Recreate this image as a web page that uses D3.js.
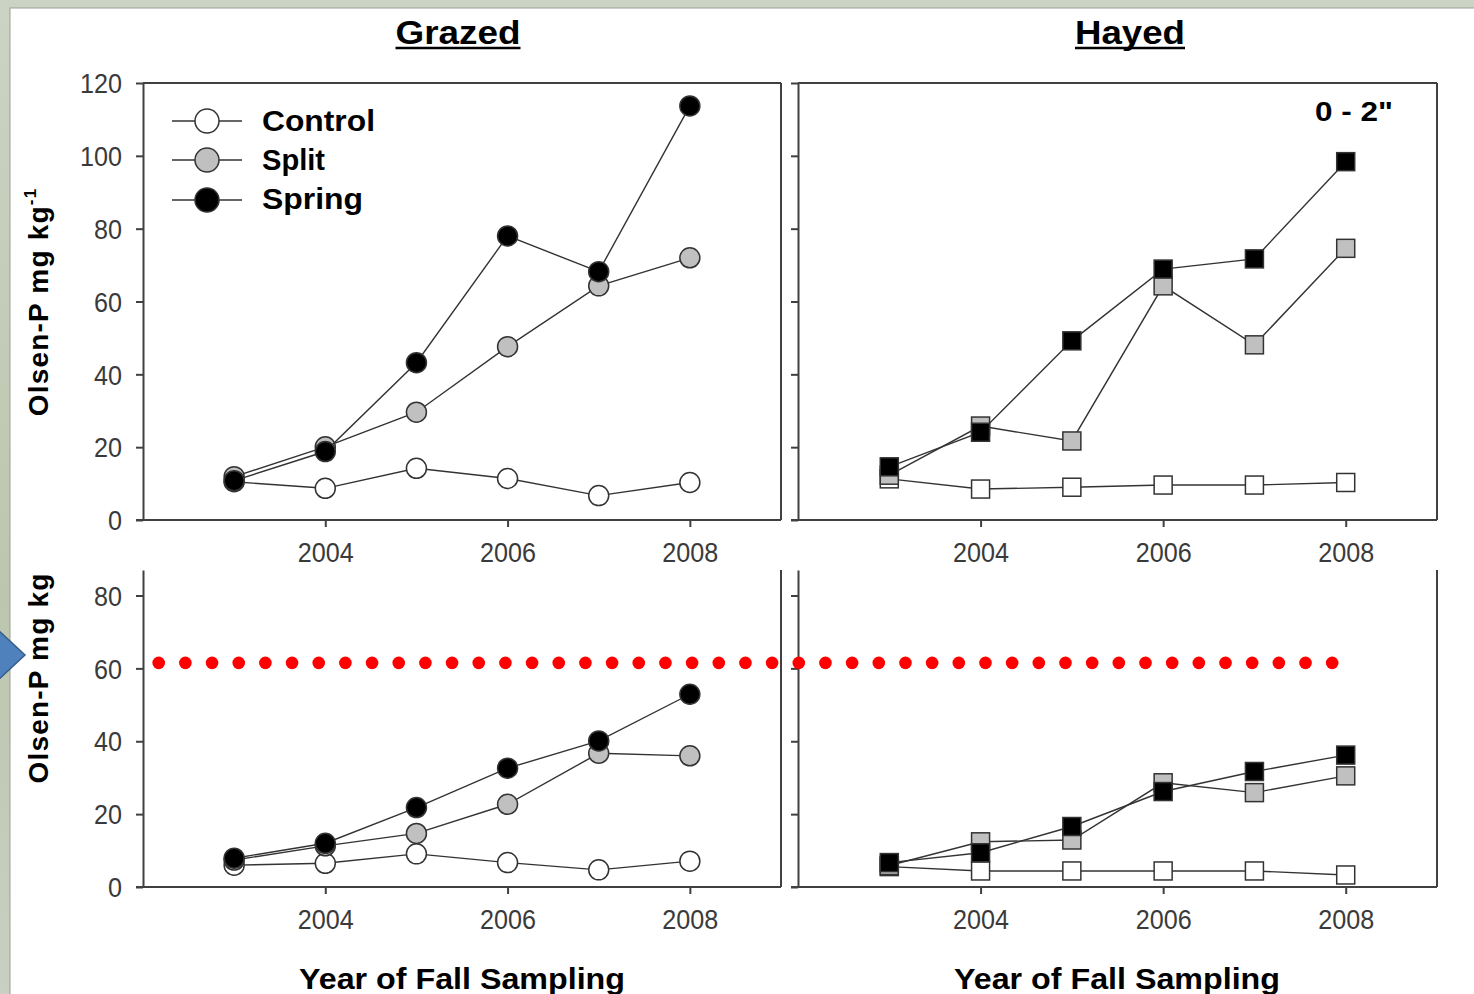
<!DOCTYPE html>
<html>
  <head>
    <meta charset="utf-8">
    <title>Olsen-P by year of fall sampling</title>
    <script src="https://cdn.jsdelivr.net/npm/d3@7"></script>
    <style>
      body { margin: 0; background: #c6cebd; }
      svg { display: block; }
      .tick text { font-family: "Liberation Sans", Arial, sans-serif; fill: #3a3a3a; }
      .bold { font-family: "Liberation Sans", Arial, sans-serif; font-weight: bold; fill: #000; }
    </style>
  </head>
  <body>
    <svg id="chart" width="1474" height="994"></svg>
    <script>
      // values
      const years = [2003, 2004, 2005, 2006, 2007, 2008];
      const grazedTopControl = [10.5, 8.7, 14.2, 11.4, 6.7, 10.3];
      const grazedTopSplit = [11.9, 20.1, 29.6, 47.6, 64.3, 72.0];
      const grazedTopSpring = [10.8, 18.8, 43.2, 78.0, 68.2, 113.7];
      const hayedTopControl = [11.3, 8.5, 9.0, 9.6, 9.6, 10.3];
      const hayedTopSplit = [12.3, 25.8, 21.7, 64.3, 48.1, 74.6];
      const hayedTopSpring = [14.6, 24.1, 49.2, 68.9, 71.7, 98.4];
      const grazedBottomControl = [6.0, 6.5, 9.1, 6.7, 4.7, 7.1];
      const grazedBottomSplit = [7.4, 11.3, 14.7, 22.7, 36.7, 36.0];
      const grazedBottomSpring = [7.9, 12.0, 21.8, 32.6, 40.1, 52.9];
      const hayedBottomControl = [5.6, 4.4, 4.4, 4.4, 4.4, 3.3];
      const hayedBottomSplit = [5.9, 12.4, 12.9, 28.6, 25.9, 30.5];
      const hayedBottomSpring = [6.7, 9.4, 16.6, 26.2, 31.7, 36.2];

      const seriesNames = ["Control", "Split", "Spring"];
      const seriesFills = ["#ffffff", "#c0c0c0", "#000000"];
      const topYTicks = [0, 20, 40, 60, 80, 100, 120];
      const bottomYTicks = [0, 20, 40, 60, 80];
      const xTicks = [2004, 2006, 2008];
      const thresholdValue = 61.5;

      const svg = d3.select("#chart");
      const axisColor = "#404040";

      // slide background + white area
      const grad = svg.append("defs").append("linearGradient")
        .attr("id", "bg").attr("x1", 0).attr("y1", 0).attr("x2", 0).attr("y2", 1);
      grad.append("stop").attr("offset", "0%").attr("stop-color", "#cbd3c4");
      grad.append("stop").attr("offset", "60%").attr("stop-color", "#bcc6ae");
      grad.append("stop").attr("offset", "100%").attr("stop-color", "#c9cfc2");
      svg.append("rect").attr("width", 1474).attr("height", 994).attr("fill", "url(#bg)");
      svg.append("rect").attr("x", 10).attr("y", 8).attr("width", 1470).attr("height", 990)
        .attr("fill", "#fff").attr("stroke", "#9aa096").attr("stroke-width", 1);

      const panels = [
        { x0: 143, x1: 781, y0: 83, y1: 520, max: 120, ticks: topYTicks, labels: true, top: true,
          shape: "circle", data: [grazedTopControl, grazedTopSplit, grazedTopSpring] },
        { x0: 798, x1: 1437, y0: 83, y1: 520, max: 120, ticks: topYTicks, labels: false, top: true,
          shape: "square", data: [hayedTopControl, hayedTopSplit, hayedTopSpring] },
        { x0: 143, x1: 781, y0: 570, y1: 887, max: 87, ticks: bottomYTicks, labels: true, top: false,
          shape: "circle", data: [grazedBottomControl, grazedBottomSplit, grazedBottomSpring] },
        { x0: 798, x1: 1437, y0: 570, y1: 887, max: 87, ticks: bottomYTicks, labels: false, top: false,
          shape: "square", data: [hayedBottomControl, hayedBottomSplit, hayedBottomSpring] }
      ];

      let bottomY = null;

      panels.forEach(function (p) {
        const x = d3.scaleLinear().domain([2002, 2009]).range([p.x0, p.x1]);
        const y = d3.scaleLinear().domain([0, p.max]).range([p.y1, p.y0]);
        p.x = x; p.y = y;
        if (!p.top && !bottomY) bottomY = y;
        const g = svg.append("g");

        // frame lines
        if (p.top) {
          g.append("line").attr("x1", p.x0).attr("x2", p.x1).attr("y1", p.y0).attr("y2", p.y0)
            .attr("stroke", axisColor).attr("stroke-width", 2);
        }
        g.append("line").attr("x1", p.x1).attr("x2", p.x1).attr("y1", p.y0).attr("y2", p.y1)
          .attr("stroke", axisColor).attr("stroke-width", 2);

        const yAxis = g.append("g")
          .attr("transform", "translate(" + p.x0 + ",0)")
          .call(d3.axisLeft(y).tickValues(p.ticks).tickSize(7).tickSizeOuter(0)
            .tickFormat(p.labels ? d3.format("d") : ""));
        yAxis.selectAll("text")
          .attr("x", -21).attr("dy", "0.36em")
          .style("font-size", "27px")
          .attr("textLength", function (d) { return String(d).length * 14; })
          .attr("lengthAdjust", "spacingAndGlyphs");

        const xAxis = g.append("g")
          .attr("transform", "translate(0," + p.y1 + ")")
          .call(d3.axisBottom(x).tickValues(xTicks).tickSize(7).tickSizeOuter(0).tickFormat(d3.format("d")));
        xAxis.selectAll("text")
          .attr("y", 42).attr("dy", 0)
          .style("font-size", "27px")
          .attr("textLength", 56)
          .attr("lengthAdjust", "spacingAndGlyphs");

        [yAxis, xAxis].forEach(function (a) {
          a.select(".domain").attr("stroke", axisColor).attr("stroke-width", 2);
          a.selectAll(".tick line").attr("stroke", axisColor).attr("stroke-width", 2);
        });
        xAxis.select(".domain").attr("d", "M" + (p.x0 - 7) + ",0H" + p.x1);

        // series
        p.data.forEach(function (vals, si) {
          const pts = years.map(function (yr, i) { return [x(yr), y(vals[i])]; });
          g.append("path")
            .attr("d", d3.line()(pts))
            .attr("fill", "none").attr("stroke", "#333").attr("stroke-width", 1.4);
          if (p.shape === "circle") {
            g.selectAll(null).data(pts).enter().append("circle")
              .attr("cx", function (d) { return d[0]; })
              .attr("cy", function (d) { return d[1]; })
              .attr("r", 10)
              .attr("fill", seriesFills[si]).attr("stroke", "#333").attr("stroke-width", 1.5);
          } else {
            g.selectAll(null).data(pts).enter().append("rect")
              .attr("x", function (d) { return d[0] - 9; })
              .attr("y", function (d) { return d[1] - 9; })
              .attr("width", 18).attr("height", 18)
              .attr("fill", seriesFills[si]).attr("stroke", "#333").attr("stroke-width", 1.5);
          }
        });
      });

      // legend
      const legendRows = [121, 160, 200];
      const legendText = [131, 170, 209];
      const legendWidths = [113, 63, 101];
      seriesNames.forEach(function (name, i) {
        svg.append("line").attr("x1", 172).attr("x2", 242)
          .attr("y1", legendRows[i]).attr("y2", legendRows[i])
          .attr("stroke", "#333").attr("stroke-width", 1.6);
        svg.append("circle").attr("cx", 207).attr("cy", legendRows[i]).attr("r", 12)
          .attr("fill", seriesFills[i]).attr("stroke", "#333").attr("stroke-width", 1.5);
        svg.append("text").attr("class", "bold")
          .attr("x", 262).attr("y", legendText[i])
          .style("font-size", "29px")
          .attr("textLength", legendWidths[i]).attr("lengthAdjust", "spacingAndGlyphs")
          .text(name);
      });

      // panel titles
      [["Grazed", 458, 125], ["Hayed", 1130, 110]].forEach(function (t) {
        svg.append("text").attr("class", "bold")
          .attr("x", t[1] - t[2] / 2).attr("y", 44)
          .style("font-size", "33px")
          .attr("textLength", t[2]).attr("lengthAdjust", "spacingAndGlyphs")
          .text(t[0]);
        svg.append("line").attr("x1", t[1] - t[2] / 2).attr("x2", t[1] + t[2] / 2)
          .attr("y1", 48).attr("y2", 48).attr("stroke", "#000").attr("stroke-width", 2.5);
      });

      svg.append("text").attr("class", "bold")
        .attr("x", 1315).attr("y", 121)
        .style("font-size", "28px")
        .attr("textLength", 78).attr("lengthAdjust", "spacingAndGlyphs")
        .text("0 - 2\"");

      // x axis titles
      [462, 1117].forEach(function (cx) {
        svg.append("text").attr("class", "bold")
          .attr("x", cx - 163).attr("y", 989)
          .style("font-size", "30px")
          .attr("textLength", 326).attr("lengthAdjust", "spacingAndGlyphs")
          .text("Year of Fall Sampling");
      });

      // y axis titles
      const yt1 = svg.append("text").attr("class", "bold")
        .attr("transform", "translate(48,302) rotate(-90)")
        .attr("text-anchor", "middle")
        .style("font-size", "28px").style("letter-spacing", "1.2px");
      yt1.append("tspan").text("Olsen-P mg kg");
      yt1.append("tspan").attr("dy", -12).style("font-size", "17px").text("-1");

      svg.append("text").attr("class", "bold")
        .attr("transform", "translate(48,678) rotate(-90)")
        .attr("text-anchor", "middle")
        .style("font-size", "28px").style("letter-spacing", "1.2px")
        .text("Olsen-P mg kg");

      // red dotted threshold line
      const dotY = bottomY(thresholdValue);
      const dotXs = d3.range(45).map(function (i) { return 158.7 + i * 26.67; });
      svg.selectAll(".dot").data(dotXs).enter().append("circle")
        .attr("class", "dot")
        .attr("cx", function (d) { return d; })
        .attr("cy", dotY)
        .attr("r", 6.3)
        .attr("fill", "#ff0000");

      // blue arrow at the left edge
      svg.append("path")
        .attr("d", "M-2,630L25,655L-2,680Z")
        .attr("fill", "#4f81bd").attr("stroke", "#385d8a").attr("stroke-width", 1.5);
    </script>
  </body>
</html>
